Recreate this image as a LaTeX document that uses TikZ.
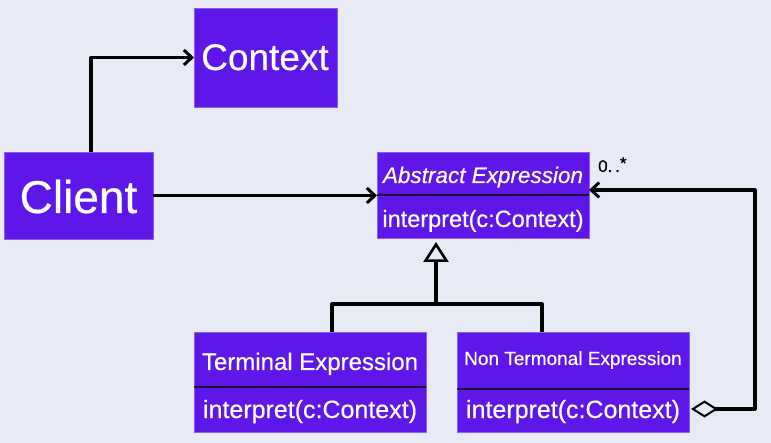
\documentclass[tikz,border=0pt]{standalone}
\usepackage{fontspec}
\setmainfont{Liberation Sans}
\newfontfamily\boxfont[FakeBold=0.5]{Liberation Sans}
\usetikzlibrary{arrows.meta}
\definecolor{bg}{HTML}{E8EBF5}
\definecolor{cls}{HTML}{5D17E9}
\definecolor{divc}{HTML}{1A1030}
\begin{document}
\begin{tikzpicture}[x=1pt,y=-1pt,
  box/.style={fill=cls, draw=cls!70!white, line width=0.6pt, anchor=north west, inner sep=0pt, outer sep=0pt},
  txt/.style={text=white, inner sep=0pt, anchor=base},
  conn/.style={line width=3.2pt, line join=round, draw=black},
  divline/.style={line width=2.2pt, draw=divc},
  barb/.style={-{Straight Barb[length=8pt,width=15pt,line width=3pt]}}]
\useasboundingbox (0,0) rectangle (771,443);
\fill[bg] (0,0) rectangle (771,443);

% boxes
\node[box, minimum width=143pt, minimum height=99pt] (ctx) at (194,8) {};
\node[box, minimum width=149pt, minimum height=87pt] (client) at (4,152) {};
\node[box, minimum width=212pt, minimum height=86pt] (abs) at (377,152) {};
\node[box, minimum width=232pt, minimum height=100pt] (term) at (194,332) {};
\node[box, minimum width=232pt, minimum height=100pt] (nt) at (457,332) {};

% dividers
\draw[divline] (abs.west |- 0,195) coordinate (absd) -- (absd -| abs.east);
\draw[divline] (term.west |- 0,387) coordinate (termd) -- (termd -| term.east);
\draw[divline] (nt.west |- 0,389) coordinate (ntd) -- (ntd -| nt.east);

% texts
\node[txt, font=\boxfont\fontsize{37}{40}\selectfont] (ctxt) at (265,70) {Context};
\node[txt, font=\boxfont\fontsize{46}{50}\selectfont] (clientt) at (78.5,213) {Client};
\node[txt, font=\boxfont\fontsize{22.5}{26}\selectfont\itshape] (abst) at (483,183) {Abstract Expression};
\node[txt, font=\boxfont\fontsize{23.5}{26}\selectfont] (absm) at (483,227) {interpret(c:Context)};
\node[txt, font=\boxfont\fontsize{24}{26}\selectfont] (termt) at (310,370) {Terminal Expression};
\node[txt, font=\boxfont\fontsize{25}{28}\selectfont] (termm) at (310,418) {interpret(c:Context)};
\node[txt, font=\boxfont\fontsize{19}{22}\selectfont] (ntt) at (573,365) {Non Termonal Expression};
\node[txt, font=\boxfont\fontsize{25}{28}\selectfont] (ntm) at (573,418) {interpret(c:Context)};
\node[inner sep=0pt, anchor=base west, font=\boxfont\fontsize{17}{20}\selectfont] (mult) at (598,172) {0.\,.\raisebox{3pt}{*}};

% connectors
\draw[conn, barb] ([xshift=12.5pt]client.north) |- (ctx.west);
\draw[conn, barb] (client.east) -- (client.east -| abs.west);

\coordinate (jn) at (436,304);
\draw[conn] ([xshift=22pt]term.north) |- (jn) -| ([xshift=-31pt]nt.north);
\draw[conn, -{Triangle[open,length=20pt,width=25pt,line width=2.6pt]}, shorten >=4pt] (jn) -- (jn |- abs.south);

\coordinate (a1) at (755,409);
\coordinate (a2) at (755,190);
\draw[conn, {Diamond[open,length=27pt,width=17pt,line width=2pt]}-{Straight Barb[length=8pt,width=15pt,line width=3pt]}, shorten <=2pt]
  (nt.east |- a1) -- (a1) -- (a2) -- (a2 -| abs.east);
\end{tikzpicture}
\end{document}
